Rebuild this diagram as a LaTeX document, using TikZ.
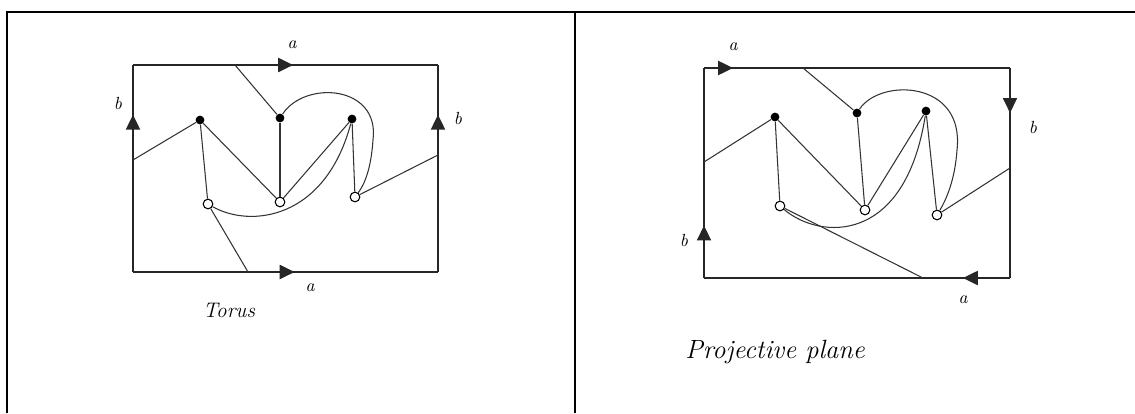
\documentclass[tikz,border=0pt]{standalone}
\usetikzlibrary{arrows.meta,decorations.markings}
\begin{document}
\begin{tikzpicture}[x=0.02cm, y=-0.02cm,
  frame/.style={line width=1pt},
  side/.style={line width=1pt, draw=black!85},
  edge/.style={line width=0.6pt, draw=black!80},
  arr/.style={postaction={decorate}, decoration={markings,
    mark=at position #1 with {\arrow{Triangle[length=8.5pt,width=8pt]}}}},
  vfull/.style={circle, fill=black, inner sep=0pt, minimum size=5pt},
  vopen/.style={circle, draw=black, fill=white, line width=0.6pt,
    inner sep=0pt, minimum size=5.5pt},
  lbl/.style={font=\normalsize\itshape, inner sep=1pt},
]
\useasboundingbox (0,0) rectangle (1135,413);

% Outer frame
\draw[frame] (7,413) -- (7,12) -- (1135,12);
\draw[frame] (575,12) -- (575,413);

% ---------------- Torus ----------------
\coordinate (tl) at (133,65);
\coordinate (tr) at (438,65);
\coordinate (br) at (438,272);
\coordinate (bl) at (133,272);
\draw[side, arr=0.525] (tl) -- (tr);
\draw[side, arr=0.53] (bl) -- (br);
\draw[side, arr=0.76] (bl) -- (tl);
\draw[side, arr=0.76] (br) -- (tr);
\node[lbl] (ta) at (292,45) {a};
\node[lbl] (ba) at (310,288) {a};
\node[lbl] (lb) at (118,103) {b};
\node[lbl] (rb) at (458,118) {b};

\node[vfull] (a1) at (200,120) {};
\node[vfull] (a2) at (280,118) {};
\node[vfull] (a3) at (352,119) {};
\node[vopen] (b1) at (208,204) {};
\node[vopen] (b2) at (280,202) {};
\node[vopen] (b3) at (355,197) {};

\coordinate (a1w) at (133,160);
\coordinate (a2n) at (235,65);
\coordinate (b3e) at (438,155);
\coordinate (b1s) at (248,272);
\coordinate (tbend) at (373,140);

\draw[edge] (a1) -- (a1w);
\draw[edge] (a2) -- (a2n);
\draw[edge] (b3) -- (b3e);
\draw[edge] (b1) -- (b1s);
\draw[edge] (a1) -- (b1);
\draw[edge] (a1) -- (b2);
\draw[edge] (a2) -- (b2);
\draw[edge] (a3) -- (b2);
\draw[edge] (a3) -- (b3);
\draw[edge] (b1) .. controls (250,228) and (325,220) .. (a3);
\draw[edge] (a2) .. controls (305,80) and (380,85) .. (tbend)
  .. controls (371,170) and (364,185) .. (b3);

\node[font=\fontsize{12}{14}\selectfont\itshape] (torus) at (229,310) {Torus};

% ---------------- Projective plane ----------------
\coordinate (ptl) at (704,68);
\coordinate (ptr) at (1010,68);
\coordinate (pbr) at (1010,278);
\coordinate (pbl) at (704,278);
\draw[side, arr=0.095] (ptl) -- (ptr);
\draw[side, arr=0.214] (ptr) -- (pbr);
\draw[side, arr=0.154] (pbr) -- (pbl);
\draw[side, arr=0.25] (pbl) -- (ptl);
\node[lbl] (pta) at (733,47) {a};
\node[lbl] (prb) at (1033,127) {b};
\node[lbl] (plb) at (684,240) {b};
\node[lbl] (pba) at (963,300) {a};

\node[vfull] (p1) at (775,117) {};
\node[vfull] (p2) at (857,113) {};
\node[vfull] (p3) at (926,111) {};
\node[vopen] (q1) at (780,206) {};
\node[vopen] (q2) at (865,210) {};
\node[vopen] (q3) at (937,215) {};

\coordinate (p1w) at (704,162);
\coordinate (p2n) at (803,68);
\coordinate (q3e) at (1010,168);
\coordinate (q1s) at (923,278);
\coordinate (pbend) at (957,150);

\draw[edge] (p1) -- (p1w);
\draw[edge] (p2) -- (p2n);
\draw[edge] (q3) -- (q3e);
\draw[edge] (q1) -- (q1s);
\draw[edge] (p1) -- (q1);
\draw[edge] (p1) -- (q2);
\draw[edge] (p2) -- (q2);
\draw[edge] (p3) -- (q2);
\draw[edge] (p3) -- (q3);
\draw[edge] (q1) .. controls (820,240) and (905,245) .. (p3);
\draw[edge] (p2) .. controls (880,78) and (965,80) .. (pbend)
  .. controls (955,180) and (946,200) .. (q3);

\node[font=\fontsize{15}{17}\selectfont\itshape] (proj) at (775,352) {Projective plane};

\end{tikzpicture}
\end{document}
